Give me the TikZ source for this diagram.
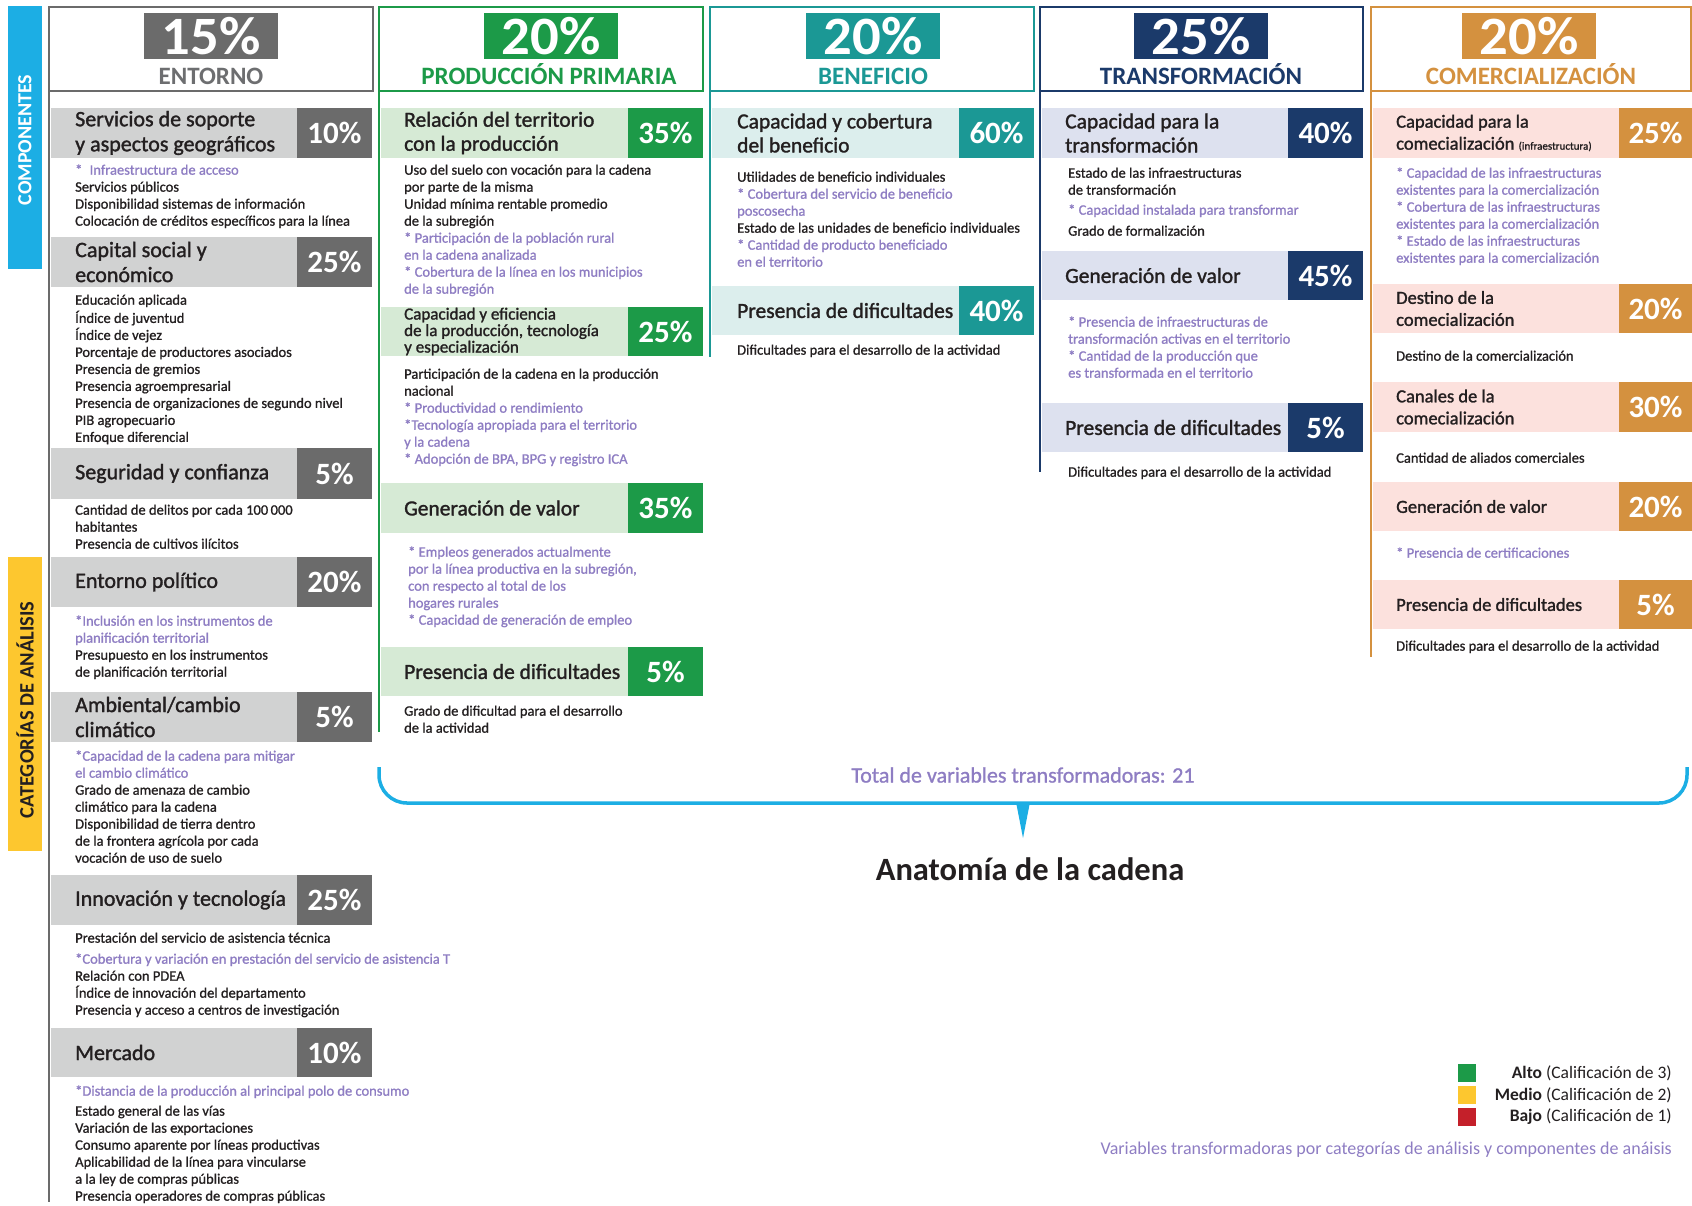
\documentclass[tikz,border=0pt]{standalone}
\usepackage{fontspec}
\setmainfont{Carlito}
\newfontfamily\medfont{Carlito}[FakeBold=1.0]
\newfontfamily\headfont{Carlito}[FakeBold=1.4]
\newfontfamily\pctfont{Carlito}[FakeStretch=1.05]

\definecolor{ink}{HTML}{231F20}
\definecolor{lila}{HTML}{8E7DC3}
\definecolor{grisD}{HTML}{6B6B6B}
\definecolor{grisL}{HTML}{D1D2D2}
\definecolor{grisT}{HTML}{6D6E70}
\definecolor{verde}{HTML}{1C9A48}
\definecolor{verdeL}{HTML}{D6EAD5}
\definecolor{turq}{HTML}{1B9895}
\definecolor{turqL}{HTML}{DCEEED}
\definecolor{navy}{HTML}{1B3A6A}
\definecolor{navyL}{HTML}{DDE1EF}
\definecolor{ocre}{HTML}{D4913F}
\definecolor{ocreL}{HTML}{FCE1DD}
\definecolor{celeste}{HTML}{1CAEE4}
\definecolor{amarillo}{HTML}{FDC72F}
\definecolor{rojo}{HTML}{C4202A}

\newcommand\fs[2]{\fontsize{#1}{#2}\selectfont}
\newcommand\pv[1]{\textcolor{lila}{#1}}

\tikzset{
  item/.style={anchor=north west, inner sep=0pt, align=left, font=\medfont\fs{14.5}{17}, text=ink},
  head/.style={anchor=west, inner sep=0pt, align=left, text=ink},
  pct/.style={inner sep=0pt, text=white, font=\bfseries\fs{31}{31}},
  bigpct/.style={fill=#1, text=white, minimum width=134pt, minimum height=46pt, inner sep=0pt, font=\pctfont\bfseries\fs{54}{54}},
  coltitle/.style={text=#1, inner sep=0pt, anchor=base, font=\bfseries\fs{25}{25}},
  frame/.style={draw=#1, line width=2pt},
  stem/.style={draw=#1, line width=2.5pt},
}

\begin{document}
\begin{tikzpicture}[x=1pt,y=-1pt]
    \useasboundingbox (0,0) rectangle (1692,1205);
    \fill[white] (0,0) rectangle (1692,1205);
    % Side bands
    \fill[celeste] (8,6) rectangle (42,269);
    \node[rotate=90, text=white, font=\bfseries\fs{20}{20}] (comp) at (25,140) {COMPONENTES};
    \fill[amarillo] (8,557) rectangle (42,851);
    \node[rotate=90, text=ink, font=\bfseries\fs{20.5}{20.5}] (cat) at (25,710) {CATEGORÍAS DE ANÁLISIS};

    % Column: Entorno
    \draw[frame=grisD] (49,7) rectangle (373,91);
    \node[bigpct=grisD] (ent) at (211,36) {15\%};
    \node[coltitle=grisT] (entT) at (211,84) {ENTORNO};
    \draw[stem=grisD] (49,91) -- (49,1202);
    \foreach \ya/\yb/\txt/\pc [count=\i] in {
        108/158/{Servicios de soporte\\y aspectos geográficos}/10,
        237/287/{Capital social y\\económico}/25,
        448/499/{Seguridad y confianza}/5,
        557/607/{Entorno político}/20,
        692/742/{Ambiental/cambio\\climático}/5,
        875/925/{Innovación y tecnología}/25,
        1028/1077/{Mercado}/10} {
        \fill[grisL] (51,\ya) rectangle (297,\yb);
        \fill[grisD] (297,\ya) rectangle (372,\yb);
        \node[head, font=\headfont\fs{22}{25}] (entC\i) at (75,{(\ya+\yb)/2}) {\txt};
        \node[pct] (entP\i) at (334.5,{(\ya+\yb)/2}) {\pc\%};
    }
    \node[item] (entV1) at (75,162.6) {\strut\pv{*\enspace Infraestructura de acceso}\\Servicios públicos\\Disponibilidad sistemas de información\\Colocación de créditos específicos para la línea};
    \node[item] (entV2) at (75,292.6) {\strut Educación aplicada\\Índice de juventud\\Índice de vejez\\Porcentaje de productores asociados\\Presencia de gremios\\Presencia agroempresarial\\Presencia de organizaciones de segundo nivel\\PIB agropecuario\\Enfoque diferencial};
    \node[item] (entV3) at (75,502.6) {\strut Cantidad de delitos por cada 100\,000\\habitantes\\Presencia de cultivos ilícitos};
    \node[item] (entV4) at (75,613.6) {\strut\pv{*Inclusión en los instrumentos de}\\\pv{planificación territorial}\\Presupuesto en los instrumentos\\de planificación territorial};
    \node[item] (entV5) at (75,748.6) {\strut\pv{*Capacidad de la cadena para mitigar}\\\pv{el cambio climático}\\Grado de amenaza de cambio\\climático para la cadena\\Disponibilidad de tierra dentro\\de la frontera agrícola por cada\\vocación de uso de suelo};
    \node[item] (entV6) at (75,930.6) {\strut Prestación del servicio de asistencia técnica\\[4pt]\pv{*Cobertura y variación en prestación del servicio de asistencia T}\\Relación con PDEA\\Índice de innovación del departamento\\Presencia y acceso a centros de investigación};
    \node[item] (entV7) at (75,1083.6) {\strut\pv{*Distancia de la producción al principal polo de consumo}\\[3pt]Estado general de las vías\\Variación de las exportaciones\\Consumo aparente por líneas productivas\\Aplicabilidad de la línea para vincularse\\a la ley de compras públicas\\Presencia operadores de compras públicas};

    % Column: Produccion primaria
    \draw[frame=verde] (379,7) rectangle (703,91);
    \node[bigpct=verde] (pp) at (551,36) {20\%};
    \node[coltitle=verde] (ppT) at (549,84) {PRODUCCIÓN PRIMARIA};
    \draw[stem=verde] (379,91) -- (379,732);
    \foreach \ya/\yb/\hs/\hl/\txt/\pc [count=\i] in {
        108/158/21.5/24/{Relación del territorio\\con la producción}/35,
        307/356/17/16.5/{Capacidad y eficiencia\\de la producción, tecnología\\y especialización}/25,
        483/533/21.5/24/{Generación de valor}/35,
        647/696/21.5/24/{Presencia de dificultades}/5} {
        \fill[verdeL] (381,\ya) rectangle (628,\yb);
        \fill[verde] (628,\ya) rectangle (703,\yb);
        \node[head, font=\headfont\fs{\hs}{\hl}] (ppC\i) at (404,{(\ya+\yb)/2}) {\txt};
        \node[pct] (ppP\i) at (665.5,{(\ya+\yb)/2}) {\pc\%};
    }
    \node[item] (ppV1) at (404,162.6) {\strut Uso del suelo con vocación para la cadena\\por parte de la misma\\Unidad mínima rentable promedio\\de la subregión\\\pv{* Participación de la población rural}\\\pv{en la cadena analizada}\\\pv{* Cobertura de la línea en los municipios}\\\pv{de la subregión}};
    \node[item] (ppV2) at (404,366.6) {\strut Participación de la cadena en la producción\\nacional\\\pv{* Productividad o rendimiento}\\\pv{*Tecnología apropiada para el territorio}\\\pv{y la cadena}\\\pv{* Adopción de BPA, BPG y registro ICA}};
    \node[item] (ppV3) at (408,544.6) {\strut\pv{* Empleos generados actualmente}\\\pv{por la línea productiva en la subregión,}\\\pv{con respecto al total de los}\\\pv{hogares rurales}\\\pv{* Capacidad de generación de empleo}};
    \node[item] (ppV4) at (404,703.6) {\strut Grado de dificultad para el desarrollo\\de la actividad};

    % Column: Beneficio
    \draw[frame=turq] (710,7) rectangle (1034,91);
    \node[bigpct=turq] (ben) at (873,36) {20\%};
    \node[coltitle=turq] (benT) at (873,84) {BENEFICIO};
    \draw[stem=turq] (710,91) -- (710,357);
    \foreach \ya/\yb/\txt/\pc [count=\i] in {
        108/158/{Capacidad y cobertura\\del beneficio}/60,
        286/335/{Presencia de dificultades}/40} {
        \fill[turqL] (712,\ya) rectangle (959,\yb);
        \fill[turq] (959,\ya) rectangle (1034,\yb);
        \node[head, font=\headfont\fs{21.5}{24}] (benC\i) at (737,{(\ya+\yb)/2}) {\txt};
        \node[pct] (benP\i) at (996.5,{(\ya+\yb)/2}) {\pc\%};
    }
    \node[item] (benV1) at (737,169.6) {\strut Utilidades de beneficio individuales\\\pv{* Cobertura del servicio de beneficio}\\\pv{poscosecha}\\Estado de las unidades de beneficio individuales\\\pv{* Cantidad de producto beneficiado}\\\pv{en el territorio}};
    \node[item] (benV2) at (737,342.6) {\strut Dificultades para el desarrollo de la actividad};

    % Column: Transformacion
    \draw[frame=navy] (1040,7) rectangle (1363,91);
    \node[bigpct=navy] (tra) at (1201,36) {25\%};
    \node[coltitle=navy] (traT) at (1201,84) {TRANSFORMACIÓN};
    \draw[stem=navy] (1040,91) -- (1040,472);
    \foreach \ya/\yb/\txt/\pc [count=\i] in {
        108/158/{Capacidad para la\\transformación}/40,
        251/300/{Generación de valor}/45,
        403/452/{Presencia de dificultades}/5} {
        \fill[navyL] (1042,\ya) rectangle (1288,\yb);
        \fill[navy] (1288,\ya) rectangle (1363,\yb);
        \node[head, font=\headfont\fs{21.5}{24}] (traC\i) at (1065,{(\ya+\yb)/2}) {\txt};
        \node[pct] (traP\i) at (1325.5,{(\ya+\yb)/2}) {\pc\%};
    }
    \node[item] (traV1) at (1068,165.6) {\strut Estado de las infraestructuras\\de transformación\\[3pt]\pv{* Capacidad instalada para transformar}\\[4pt]Grado de formalización};
    \node[item] (traV2) at (1068,314.6) {\strut\pv{* Presencia de infraestructuras de}\\\pv{transformación activas en el territorio}\\\pv{* Cantidad de la producción que}\\\pv{es transformada en el territorio}};
    \node[item] (traV3) at (1068,464.6) {\strut Dificultades para el desarrollo de la actividad};

    % Column: Comercializacion
    \draw[frame=ocre] (1371,7) rectangle (1691,91);
    \node[bigpct=ocre] (com) at (1529,36) {20\%};
    \node[coltitle=ocre] (comT) at (1531,84) {COMERCIALIZACIÓN};
    \draw[stem=ocre] (1371,91) -- (1371,657);
    \foreach \ya/\yb/\txt/\pc [count=\i] in {
        108/158/{Capacidad para la\\comecialización {\fs{11}{11}(infraestructura)}}/25,
        284/333/{Destino de la\\comecialización}/20,
        382/432/{Canales de la\\comecialización}/30,
        482/531/{Generación de valor}/20,
        580/629/{Presencia de dificultades}/5} {
        \fill[ocreL] (1373,\ya) rectangle (1619,\yb);
        \fill[ocre] (1619,\ya) rectangle (1692,\yb);
        \node[head, font=\headfont\fs{18.5}{22}] (comC\i) at (1396,{(\ya+\yb)/2}) {\txt};
        \node[pct] (comP\i) at (1655.5,{(\ya+\yb)/2}) {\pc\%};
    }
    \node[item] (comV1) at (1396,165.6) {\strut\pv{* Capacidad de las infraestructuras}\\\pv{existentes para la comercialización}\\\pv{* Cobertura de las infraestructuras}\\\pv{existentes para la comercialización}\\\pv{* Estado de las infraestructuras}\\\pv{existentes para la comercialización}};
    \node[item] (comV2) at (1396,348.6) {\strut Destino de la comercialización};
    \node[item] (comV3) at (1396,450.6) {\strut Cantidad de aliados comerciales};
    \node[item] (comV4) at (1396,545.6) {\strut\pv{* Presencia de certificaciones}};
    \node[item] (comV5) at (1396,638.6) {\strut Dificultades para el desarrollo de la actividad};

    % Brace and titles
    \coordinate (bl) at (379,767);
    \coordinate (br) at (1687,767);
    \draw[celeste, line width=3.5pt, rounded corners=28pt] (bl) -- (379,803) -- (1687,803) -- (br);
    \fill[celeste] (1016,802) -- (1030,802) -- (1023,838) -- cycle;
    \node[text=lila, font=\medfont\fs{22}{22}] (total) at (1023,775) {Total de variables transformadoras: 21};
    \node[text=ink, font=\bfseries\fs{32.5}{32.5}] (titulo) at (1030,869) {Anatomía de la cadena};

    % Legend
    \foreach \y/\c/\lv/\n in {1073/verde/Alto/3, 1095/amarillo/Medio/2, 1117/rojo/Bajo/1} {
        \fill[fill=\c] (1458,\y-9) rectangle (1476,\y+9);
        \node[anchor=east, inner sep=0pt, text=ink, font=\fs{17.5}{17.5}] (leg\n) at (1672,\y) {\textbf{\lv} (Calificación de \n)};
    }
    \node[anchor=east, inner sep=0pt, text=lila, font=\fs{18}{18}] (pie) at (1672,1150) {Variables transformadoras por categorías de análisis y componentes de anáisis};
\end{tikzpicture}
\end{document}
